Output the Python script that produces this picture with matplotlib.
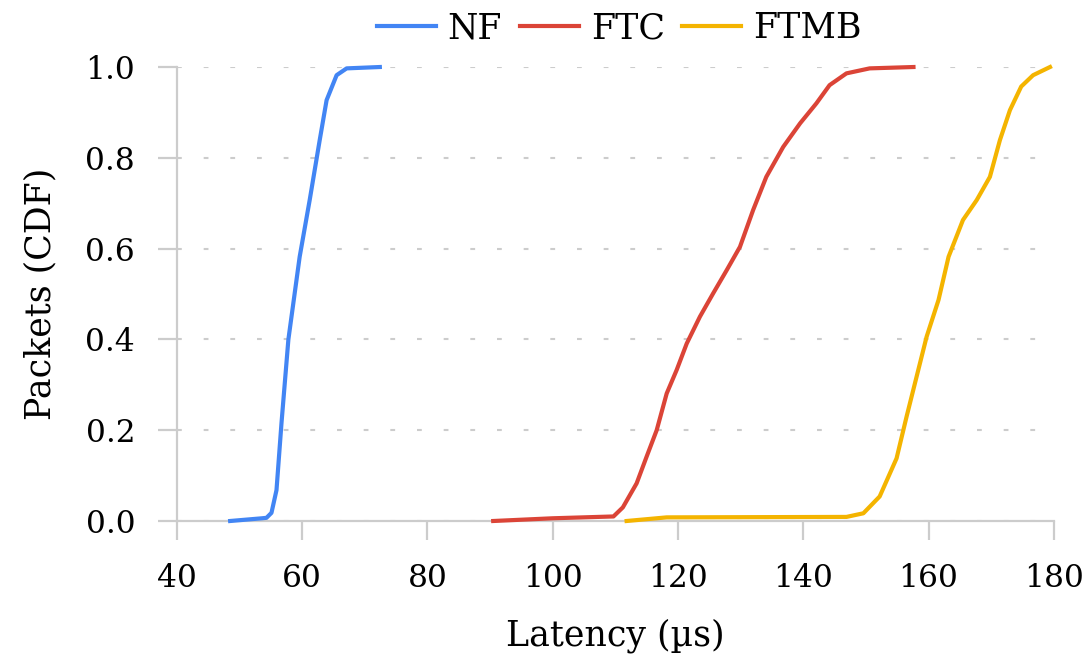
import matplotlib.pyplot as plt

# latency (us) / CDF points
nf_x = [48.5, 53.6, 54.3, 55.1, 55.9, 56.7, 57.8, 59.6, 61.2, 62.8, 63.9, 65.5, 67.1, 72.4]
nf_y = [0.0, 0.006, 0.007, 0.018, 0.068, 0.216, 0.40, 0.582, 0.707, 0.839, 0.927, 0.982, 0.997, 1.0]

ftc_x = [90.5, 100.0, 109.7, 111.2, 113.4, 115.0, 116.6, 118.2, 119.8, 121.4, 123.5, 125.6, 127.8,
         129.9, 132.0, 134.1, 136.8, 139.5, 142.1, 144.2, 146.9, 150.6, 157.6]
ftc_y = [0.0, 0.006, 0.01, 0.03, 0.083, 0.142, 0.2, 0.281, 0.333, 0.391, 0.45, 0.501, 0.553,
         0.604, 0.685, 0.758, 0.824, 0.876, 0.92, 0.96, 0.986, 0.997, 1.0]

ftmb_x = [111.8, 118.2, 146.9, 149.6, 152.2, 154.9, 156.5, 158.1, 159.7, 161.6, 163.2, 165.5,
          167.7, 169.8, 171.4, 173.0, 174.8, 176.7, 179.4]
ftmb_y = [0.0, 0.008, 0.009, 0.017, 0.054, 0.138, 0.23, 0.318, 0.406, 0.487, 0.582, 0.663,
          0.707, 0.758, 0.839, 0.905, 0.957, 0.982, 1.0]

x_ticks = [40, 60, 80, 100, 120, 140, 160, 180]
y_ticks = [0.0, 0.2, 0.4, 0.6, 0.8, 1.0]

plt.rcParams['font.family'] = ['DejaVu Serif']

fig = plt.figure(figsize=(10.92, 6.57), dpi=100)
ax = fig.add_axes([0.162, 0.207, 0.803, 0.691])

grey = '#cccccc'
ax.plot(nf_x, nf_y, color='#4285F4', lw=3, label='NF', clip_on=False, zorder=3)
ax.plot(ftc_x, ftc_y, color='#DB4437', lw=3, label='FTC', clip_on=False, zorder=3)
ax.plot(ftmb_x, ftmb_y, color='#F4B400', lw=3, label='FTMB', clip_on=False, zorder=3)

ax.set_xlim(40, 180)
ax.set_ylim(0, 1.0)
ax.set_xticks(x_ticks)
ax.set_yticks(y_ticks)
ax.set_yticklabels(['%.1f' % v for v in y_ticks])

ax.grid(axis='y', color=grey, lw=1.5, linestyle=(0, (2.3, 10.5)))
ax.set_axisbelow(True)

for s in ['top', 'right']:
    ax.spines[s].set_visible(False)
for s in ['left', 'bottom']:
    ax.spines[s].set_color(grey)
    ax.spines[s].set_linewidth(1.6)

ax.tick_params(axis='both', colors=grey, labelcolor='black', length=14, width=1.6,
               labelsize=22.5, direction='out')
ax.tick_params(axis='x', pad=16)
ax.tick_params(axis='y', pad=16)

ax.set_xlabel('Latency (µs)', fontsize=25, labelpad=18)
ax.set_ylabel('Packets (CDF)', fontsize=25, labelpad=20)

fig.legend(loc='center', bbox_to_anchor=(0.567, 0.957), ncol=3, frameon=False,
           fontsize=25, handlelength=1.7, handletextpad=0.35, columnspacing=0.5)

fig.savefig('out.png', dpi=100)
